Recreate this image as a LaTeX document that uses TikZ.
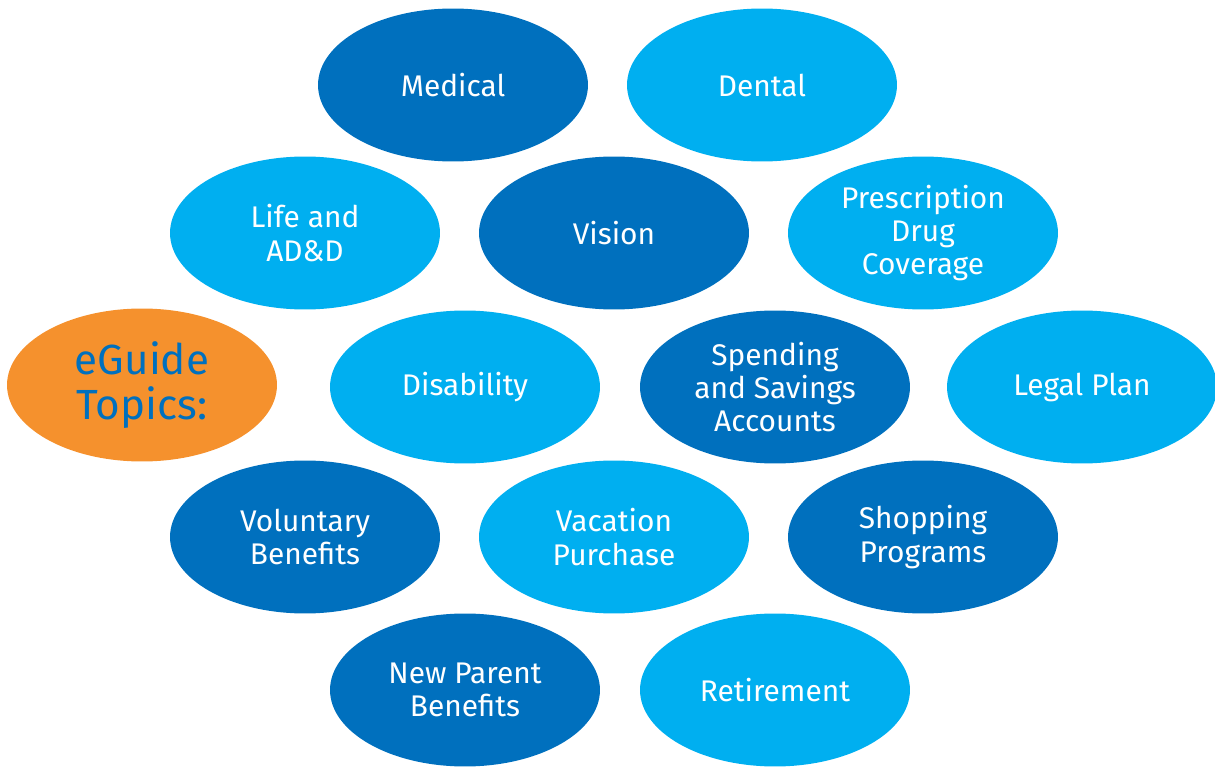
\documentclass[tikz,border=0pt]{standalone}
\usepackage{fontspec}
\setmainfont{Fira Sans}
\usepackage{tikz}
\usetikzlibrary{shapes.geometric}

\definecolor{darkblue}{RGB}{0,112,190}
\definecolor{lightblue}{RGB}{0,175,240}
\definecolor{topicorange}{RGB}{245,145,45}

\tikzset{
    topic/.style={ellipse, minimum width=5.4cm, minimum height=3.06cm, inner sep=0pt,
        text=white, align=center, font=\fontsize{17}{19}\selectfont},
    dark/.style={topic, fill=darkblue},
    light/.style={topic, fill=lightblue}
}

\begin{document}
\begin{tikzpicture}[x=0.02cm, y=-0.02cm]
        \useasboundingbox (0,0) rectangle (1215,767);

        \node[dark] (medical) at (453,85) {Medical};
        \node[light] (dental) at (762,85) {Dental};

        \node[light] (life) at (305,233) {Life and\\AD\&D};
        \node[dark] (vision) at (614,233) {Vision};
        \node[light] (rx) at (923,233) {Prescription\\Drug\\Coverage};

        \node[topic, fill=topicorange, text=darkblue, font=\fontsize{24}{26}\selectfont] (eguide) at (142,385) {eGuide\\Topics:};
        \node[light] (disability) at (465,387) {Disability};
        \node[dark] (spending) at (775,387) {Spending\\and Savings\\Accounts};
        \node[light] (legal) at (1082,387) {Legal Plan};

        \node[dark] (voluntary) at (305,537) {Voluntary\\Benefits};
        \node[light] (vacation) at (614,537) {Vacation\\Purchase};
        \node[dark] (shopping) at (923,537) {Shopping\\Programs};

        \node[dark] (parent) at (465,690) {New Parent\\Benefits};
        \node[light] (retirement) at (775,690) {Retirement};
    \end{tikzpicture}
\end{document}
